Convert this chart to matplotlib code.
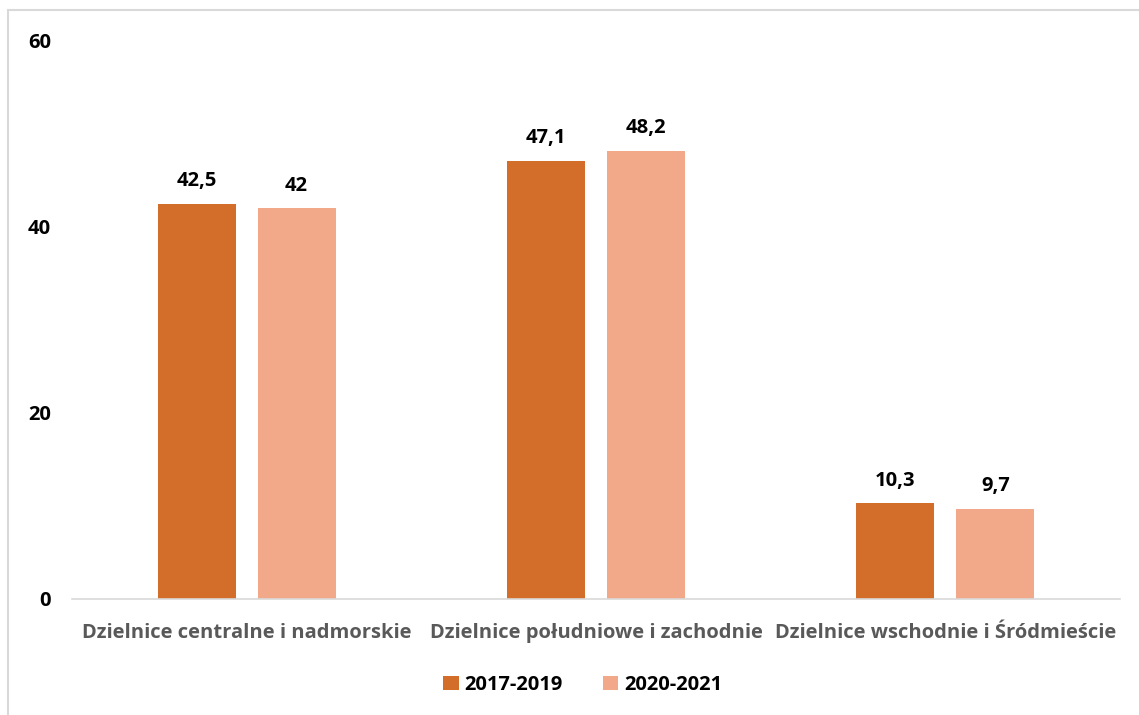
import matplotlib
matplotlib.use('Agg')
import matplotlib.pyplot as plt
from matplotlib.patches import Rectangle
import numpy as np

categories = ['Dzielnice centralne i nadmorskie',
              'Dzielnice południowe i zachodnie',
              'Dzielnice wschodnie i Śródmieście']
series_names = ['2017-2019', '2020-2021']
values_2017_2019 = [42.5, 47.1, 10.3]
values_2020_2021 = [42.0, 48.2, 9.7]
value_labels_2017_2019 = ['42,5', '47,1', '10,3']
value_labels_2020_2021 = ['42', '48,2', '9,7']
y_ticks = [0, 20, 40, 60]

colors = ['#D36E2A', '#F1A98A']

plt.rcParams['font.family'] = ['Open Sans', 'DejaVu Sans']
plt.rcParams['font.weight'] = 'bold'

fig = plt.figure(figsize=(11.39, 7.15), dpi=100)
# light frame around the chart area
fig.patches.append(Rectangle((8 / 1139, -0.1), 1.2, (715 - 10) / 715 + 0.1,
                             transform=fig.transFigure, fill=False,
                             edgecolor='#D9D9D9', linewidth=1.5))

ax = fig.add_axes([72 / 1139, 116 / 715, 1048 / 1139, 558 / 715])
x = np.arange(len(categories))
w = 0.223
off = 0.143
b1 = ax.bar(x - off, values_2017_2019, w, color=colors[0], label=series_names[0])
b2 = ax.bar(x + off, values_2020_2021, w, color=colors[1], label=series_names[1])

for bars, labels in [(b1, value_labels_2017_2019), (b2, value_labels_2020_2021)]:
    for rect, lab in zip(bars, labels):
        ax.annotate(lab, (rect.get_x() + rect.get_width() / 2, rect.get_height()),
                    xytext=(0, 9), textcoords='offset points',
                    ha='center', va='bottom', fontsize=14.5, fontweight='bold',
                    color='black')

ax.set_xlim(-0.5, 2.5)
ax.set_ylim(0, 60)
ax.set_yticks(y_ticks)
ax.set_yticklabels([str(t) for t in y_ticks], fontsize=14.5, fontweight='bold')
ax.set_xticks(x)
ax.set_xticklabels(categories, fontsize=14.5, fontweight='bold', color='#595959')
ax.tick_params(axis='y', length=0, pad=15)
ax.tick_params(axis='x', length=0, pad=17)

for s in ['top', 'right', 'left']:
    ax.spines[s].set_visible(False)
ax.spines['bottom'].set_color('#D9D9D9')
ax.spines['bottom'].set_linewidth(1.2)

fig.legend(handles=[b1, b2], labels=series_names, loc='center',
           bbox_to_anchor=(583 / 1139, 1 - 685 / 715), ncol=2, frameon=False,
           prop={'size': 14.5, 'weight': 'bold'}, handlelength=0.75, handleheight=0.75,
           handletextpad=0.3, columnspacing=2.0)

fig.savefig('out.png', dpi=100)
